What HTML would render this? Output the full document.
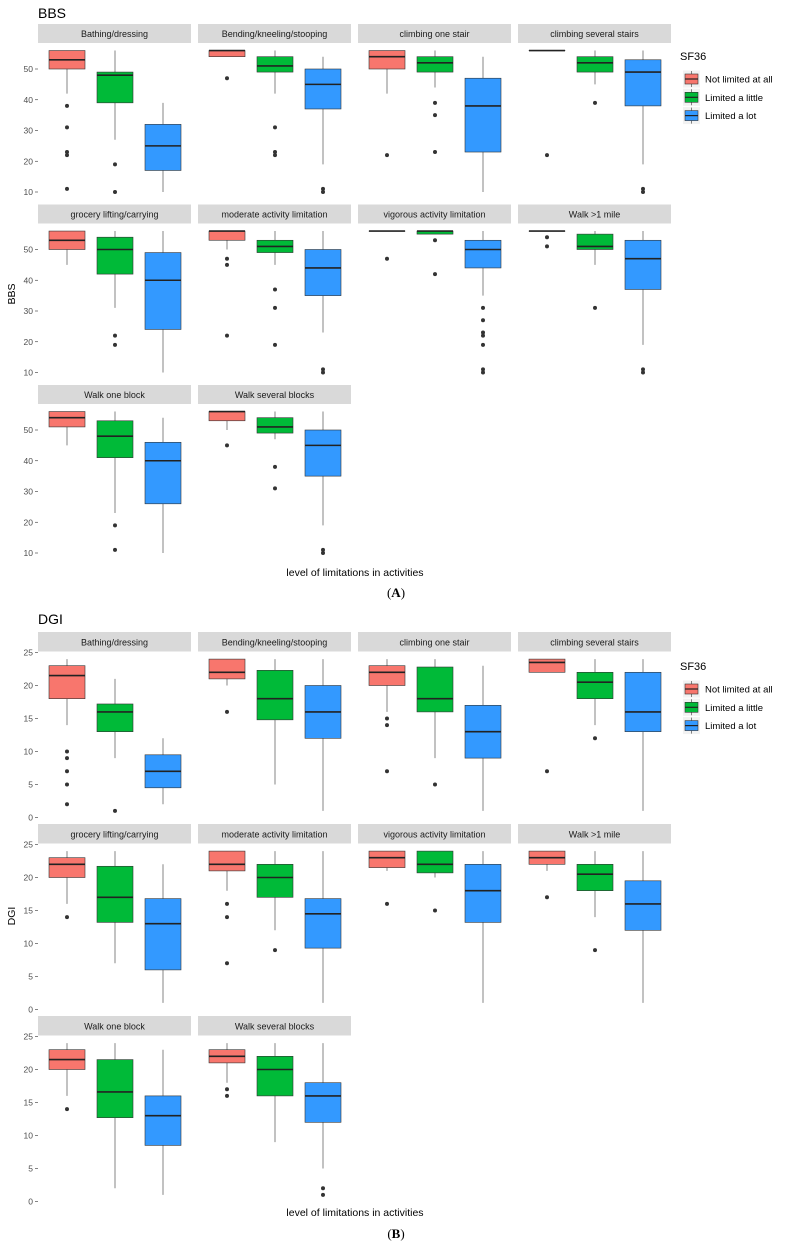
<!DOCTYPE html>
<html><head><meta charset="utf-8"><style>
html,body{margin:0;padding:0;background:#fff;}
svg{display:block;}
</style></head>
<body>
<svg id="fig" width="793" height="1251" viewBox="0 0 793 1251" xmlns="http://www.w3.org/2000/svg"></svg>
<script>
// ---- data ----
const facets = ["Bathing/dressing","Bending/kneeling/stooping","climbing one stair","climbing several stairs","grocery lifting/carrying","moderate activity limitation","vigorous activity limitation","Walk >1 mile","Walk one block","Walk several blocks"];
const groups = ["Not limited at all","Limited a little","Limited a lot"];
const colors = ["#F8766D","#00BA38","#3399FF"];
// each box: [lowWhisker, q1, median, q3, highWhisker]
const bbsNot = [[42,50,53,56,56],[54,54,56,56,56],[42,50,54,56,56],[56,56,56,56,56],[45,50,53,56,56],[50,53,56,56,56],[56,56,56,56,56],[56,56,56,56,56],[45,51,54,56,56],[50,53,56,56,56]];
const bbsLittle = [[27,39,48,49,56],[42,49,51,54,56],[44,49,52,54,56],[45,49,52,54,56],[31,42,50,54,56],[45,49,51,53,56],[55,55,56,56,56],[45,50,51,55,56],[23,41,48,53,56],[47,49,51,54,56]];
const bbsLot = [[10,17,25,32,39],[19,37,45,50,54],[10,23,38,47,54],[19,38,49,53,56],[10,24,40,49,56],[23,35,44,50,56],[35,44,50,53,56],[19,37,47,53,56],[10,26,40,46,54],[19,35,45,50,56]];
const bbsOutNot = [[38,31,23,22,11],[47],[22],[22],[],[47,45,22],[47],[54,51],[],[45]];
const bbsOutLittle = [[19,10],[31,23,22],[39,35,23],[39],[22,19],[37,31,19],[53,42],[31],[19,11],[38,31]];
const bbsOutLot = [[],[11,10],[],[11,10],[],[11,10],[31,27,23,22,19,11,10],[11,10],[],[11,10]];
const dgiNot = [[14,18,21.5,23,24],[20,21,22,24,24],[16,20,22,23,24],[22,22,23.5,24,24],[16,20,22,23,24],[18,21,22,24,24],[21,21.5,23,24,24],[21,22,23,24,24],[16,20,21.5,23,24],[18,21,22,23,24]];
const dgiLittle = [[9,13,16,17.2,21],[5,14.8,18,22.3,24],[9,16,18,22.8,24],[14,18,20.5,22,24],[7,13.2,17,21.7,24],[12,17,20,22,24],[20,20.7,22,24,24],[14,18,20.5,22,24],[2,12.7,16.6,21.5,24],[9,16,20,22,24]];
const dgiLot = [[2,4.5,7,9.5,12],[1,12,16,20,24],[1,9,13,17,23],[1,13,16,22,24],[1,6,13,16.8,22],[1,9.3,14.5,16.8,24],[1,13.2,18,22,24],[1,12,16,19.5,24],[1,8.5,13,16,23],[5,12,16,18,24]];
const dgiOutNot = [[10,9,7,5,2],[16],[15,14,7],[7],[14],[16,14,7],[16],[17],[14],[17,16]];
const dgiOutLittle = [[1],[],[5],[12],[],[9],[15],[9],[],[]];
const dgiOutLot = [[],[],[],[],[],[],[],[],[],[2,1]];
const bbsTicks = [10,20,30,40,50];
const dgiTicks = [0,5,10,15,20,25];

const NS = "http://www.w3.org/2000/svg";
const svg = document.getElementById("fig");
function mk(tag, attrs, parent, text){
  const e = document.createElementNS(NS, tag);
  for (const k in attrs) e.setAttribute(k, attrs[k]);
  if (text !== undefined) e.textContent = text;
  (parent||svg).appendChild(e);
  return e;
}
const FONT = '"Liberation Sans", Arial, sans-serif';
const panelX = [38,198,358,518], panelW = 153;

function drawChart(cfg){
  const g = mk("g", {});
  
  
  const t = mk("text", {x:38, y:cfg.titleY, "font-family":FONT, "font-size":14, fill:"#000"}, g, cfg.title);
  
  
  const series = [cfg.not, cfg.little, cfg.lot];
  const outs = [cfg.outNot, cfg.outLittle, cfg.outLot];
  for (let f = 0; f < facets.length; f++){
    const row = Math.floor(f/4), col = f%4;
    const px = panelX[col];
    const stripTop = cfg.stripTop + row*cfg.pitch;
    const y = v => cfg.yAt(row, v);
    const pg = mk("g", {}, g);
    
    
    const sr = mk("rect", {x:px, y:stripTop, width:panelW, height:cfg.stripH, fill:"#d9d9d9"}, pg);
    
    
    const st = mk("text", {x:px+panelW/2, y:stripTop+cfg.stripH/2+3.5, "text-anchor":"middle", "font-family":FONT, "font-size":9, fill:"#1a1a1a"}, pg, facets[f]);
    
    
    if (col === 0){
      cfg.ticks.forEach(tv => {
        const tl = mk("line", {x1:35, x2:38, y1:y(tv), y2:y(tv), stroke:"#333", "stroke-width":0.6}, pg);
        
        
        const tx = mk("text", {x:33, y:y(tv)+3, "text-anchor":"end", "font-family":FONT, "font-size":8.5, fill:"#4d4d4d"}, pg, String(tv));
        
        
      });
    }
    for (let s = 0; s < 3; s++){
      const d = series[s][f];
      const cx = px + 29 + s*48;
      const bw = 36;
      const bg = mk("g", {}, pg);
      
      
      mk("line", {x1:cx, x2:cx, y1:y(d[0]), y2:y(d[4]), stroke:"#333", "stroke-width":0.6}, bg);
      mk("rect", {x:cx-bw/2, y:y(d[3]), width:bw, height:Math.max(0.1, y(d[1])-y(d[3])), fill:colors[s], stroke:"#333", "stroke-width":0.6}, bg);
      mk("line", {x1:cx-bw/2, x2:cx+bw/2, y1:y(d[2]), y2:y(d[2]), stroke:"#222", "stroke-width":1.6}, bg);
      outs[s][f].forEach(o => {
        const c = mk("circle", {cx:cx, cy:y(o), r:2, fill:"#333"}, bg);
        
        
      });
    }
  }
  const yt = mk("text", {x:0, y:0, transform:`translate(15,${cfg.yTitleY}) rotate(-90)`, "text-anchor":"middle", "font-family":FONT, "font-size":10.5, fill:"#000"}, g, cfg.title);
  
  
  const xt = mk("text", {x:355, y:cfg.xTitleY, "text-anchor":"middle", "font-family":FONT, "font-size":10.5, fill:"#000"}, g, "level of limitations in activities");
  
  
  const lg = mk("g", {}, g);
  
  
  const lt = mk("text", {x:680, y:cfg.legY, "font-family":FONT, "font-size":11, fill:"#000"}, lg, "SF36");
  
  
  for (let s = 0; s < 3; s++){
    const ky = cfg.legY + 19 + s*18.3;
    const eg = mk("g", {}, lg);
    
    
    mk("rect", {x:683, y:ky-8.5, width:17, height:17, fill:"#f2f2f2"}, eg);
    mk("line", {x1:691.5, x2:691.5, y1:ky-8, y2:ky+8, stroke:"#333", "stroke-width":0.6}, eg);
    mk("rect", {x:685, y:ky-5, width:13, height:10, fill:colors[s], stroke:"#333", "stroke-width":0.6}, eg);
    mk("line", {x1:685, x2:698, y1:ky, y2:ky, stroke:"#222", "stroke-width":1.2}, eg);
    mk("text", {x:705, y:ky+3.5, "font-family":FONT, "font-size":9.5, fill:"#000"}, eg, groups[s]);
  }
  const pl = mk("text", {x:396, y:cfg.labelY, "text-anchor":"middle", "font-family":'"Liberation Serif", serif', "font-size":13, fill:"#000"}, g);
  
  
  mk("tspan", {}, pl, "(");
  mk("tspan", {"font-weight":"bold"}, pl, cfg.letter);
  mk("tspan", {}, pl, ")");
}

drawChart({name:"bbs", title:"BBS", letter:"A", titleY:18, stripTop:24, stripH:19, pitch:180.5,
  yAt:(row,v)=>69 + row*180.5 + (50-v)*3.075,
  ticks:bbsTicks, not:bbsNot, little:bbsLittle, lot:bbsLot, outNot:bbsOutNot, outLittle:bbsOutLittle, outLot:bbsOutLot,
  yTitleY:294, xTitleY:576, legY:60, labelY:597});
drawChart({name:"dgi", title:"DGI", letter:"B", titleY:624, stripTop:632, stripH:19.5, pitch:192,
  yAt:(row,v)=>652.5 + row*192 + (25-v)*6.6,
  ticks:dgiTicks, not:dgiNot, little:dgiLittle, lot:dgiLot, outNot:dgiOutNot, outLittle:dgiOutLittle, outLot:dgiOutLot,
  yTitleY:916, xTitleY:1216, legY:670, labelY:1238});
</script>
</body></html>
